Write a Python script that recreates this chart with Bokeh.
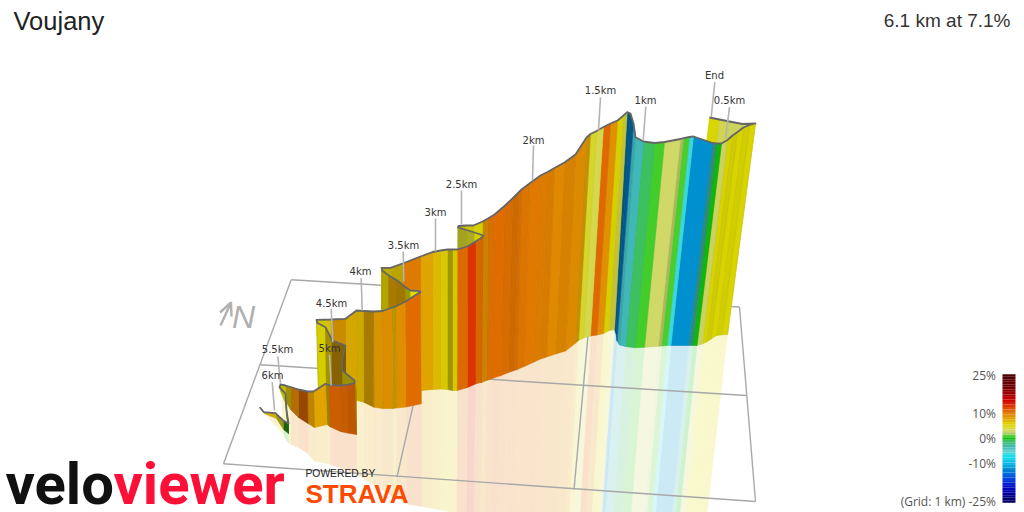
from bokeh.core.properties import value
from bokeh.embed import file_html
from bokeh.models import Range1d
from bokeh.plotting import figure
from bokeh.resources import INLINE
import numpy as np

# ---- route ribbon, from the End of the climb to its start ----
route_top_x = [
    709, 719, 729, 742,
    755, 749, 743, 737, 732, 727, 721, 716, 712, 693, 689, 683, 680, 664, 654, 643, 635, 633, 630,
    626.7, 623, 617, 610, 603, 596, 590, 586, 575, 564, 554, 547, 540, 529, 521, 518, 512, 504, 494, 487.6, 482,
    473, 465, 458, 457.5, 466, 474,
    483, 480, 475, 467, 456.7, 452, 447, 440, 432, 420,
    402, 390, 381, 381.7, 388.3, 396.7, 405, 410, 419,
    420, 405, 395, 392, 382, 373, 363, 356, 345, 330, 316,
    316.7, 325, 331.7, 345, 341.7, 341.7, 354,
    354, 347, 340, 328, 325, 313, 307, 298, 290, 285, 280,
    279, 285, 286, 288, 282.7, 275, 263.3, 259.3,
]
route_top_y = [
    117, 119, 121, 123.5,
    123, 124.5, 127, 131.5, 135, 139.5, 143, 143, 142.5, 136, 136.5, 137.7, 138.5, 141.5, 142.5, 141, 136.7, 123, 113,
    111.7, 115, 120, 123, 126.5, 130.5, 133.5, 137, 154, 162, 167.5, 171.5, 175, 183, 189, 192, 198, 205.5, 214, 218, 221,
    225, 225, 225.5, 227, 229.5, 232,
    235, 238, 241, 246, 249, 249, 249, 250, 251.5, 256,
    263, 267.3, 267.3, 270, 275, 280, 286.7, 290, 290.7,
    291.5, 301, 306, 307, 310.5, 311, 310.5, 310, 318.3, 319, 319.3,
    322.3, 326.7, 340, 345, 358.3, 370, 380,
    382.7, 384.3, 385, 384.5, 383.3, 391, 391, 389, 386.5, 385, 384,
    386.7, 393.3, 410, 423, 420, 412.7, 411.7, 406.7,
]
route_base_x = [
    687, 697, 707, 718,
    727, 721.5, 716, 710.5, 706, 702, 696.5, 692, 688, 670.5, 666.5, 661, 658, 644, 634.5, 625, 619, 616.5, 615.5,
    614, 608.5, 603, 596.5, 590, 583, 578, 574.5, 565, 555, 546, 540, 533.5, 523.5, 516.5, 513.5, 508, 500.5, 491.5, 486, 481,
    472, 464.5, 457.5, 457.5, 466, 474,
    481.7, 480, 475, 467, 456.5, 452, 447, 440, 432, 420,
    402, 390, 381, 381, 388.3, 396.7, 405, 410, 419,
    420.7, 405.5, 395.5, 392.5, 382.5, 373.3, 363.3, 356.7, 345, 331, 318,
    318.5, 326, 331.7, 345, 341.7, 341.7, 356,
    356, 347, 340, 329, 326.7, 314, 307.5, 298, 290, 285.5, 281.7,
    281, 285, 287, 288, 283, 276, 264, 259.3,
]
route_base_y = [
    300, 300, 300, 300,
    334, 334.3, 335, 338.5, 341.5, 343.3, 345, 345, 345, 345, 345, 345.5, 345.7, 346.8, 347.2, 346, 344.5, 340.5, 333,
    329, 330, 333, 334.5, 335.5, 337.5, 340, 343, 350.5, 353.5, 356.5, 358.5, 361.5, 366, 369, 370, 372, 375, 378, 380, 382,
    300, 300, 300, 300, 300, 300,
    381.7, 382, 383.5, 387, 390, 390, 389, 388.5, 389, 390,
    330, 330, 330, 330, 330, 330, 330, 330, 330,
    403.3, 406.5, 407.5, 408, 408, 406.7, 401.7, 400, 397, 392, 392,
    392, 392, 392, 392, 392, 392, 392,
    434, 432.5, 431, 426, 424, 427, 423, 417, 409, 401, 393.3,
    393, 403, 421, 433, 429, 418, 413, 407,
]
# gradient (%) of each strip between two route points
strip_grade = [
    5.5, 3.5, 3.2, 3.2,
    5.6, 5.5, 5.6, 5.4, 5.5, 3.2, 0, -3, -12, -6, 0.9, 2.6, 3, 0.8, -1, -3.5, -3.5, -13, -12,
    4, 5.5, 9, 11, 3.7, 4.5, 8, 9.2, 9.6, 9.5, 9.8, 10, 10.2, 10.3, 10.5, 10.5, 10.6, 10.8, 10.5, 9, 5.5,
    5.5, 5.5, 5.5, 4.5, 4.5, 5.5,
    10.8, 10.8, 13, 10.8, 6, 6, 6, 7, 8, 10,
    6.5, 6, 6, 6, 8, 8, 5.5, 5.5, 5.5,
    10.8, 9.2, 6.5, 9, 8.5, 8, 7, 7.5, 8.5, 6, 5.5,
    5.6, 6.5, 8, 8, 8, 6, 6.5,
    11, 11, 11, 7, 8, 8.5, 11, 9.5, 6, 6, 5.5,
    5.5, 5, 2, 0.5, 5, 7, 6,
]
# how much light each strip catches in the 3D view
strip_light = [
    0.97, 0.98, 0.98, 0.97,
    0.97, 0.93, 0.97, 0.92, 0.96, 0.97, 0.95, 0.75, 1, 1, 1, 0.88, 1, 1, 1, 1, 0.9, 0.7, 0.6,
    0.9, 0.95, 1, 1, 1, 0.98, 0.88, 0.98, 0.96, 1, 0.96, 0.98, 1, 0.98, 0.95, 0.92, 0.96, 1, 0.97, 0.9, 0.95,
    0.9, 0.85, 0.85, 0.75, 0.78, 0.95,
    0.95, 0.95, 1, 0.98, 0.97, 0.72, 0.97, 1, 1, 0.98,
    0.85, 0.85, 0.85, 0.8, 0.75, 0.72, 0.7, 1, 1,
    1, 1, 0.8, 0.98, 0.96, 0.75, 0.92, 0.96, 0.9, 0.95, 0.9,
    0.95, 0.75, 0.6, 0.55, 0.6, 0.7, 0.75,
    0.85, 0.88, 0.9, 0.7, 1, 0.85, 0.68, 0.8, 0.7, 0.9, 0.9,
    0.85, 0.7, 0.55, 0.5, 0.7, 0.95, 0.9,
]
# 1 where the strip's foot is seen and it throws a pale image on the floor
strip_floor = [
    0, 0, 0, 0,
    1, 1, 1, 1, 1, 1, 1, 1, 1, 1, 1, 1, 1, 1, 1, 1, 1, 1, 1,
    1, 1, 1, 1, 1, 1, 1, 1, 1, 1, 1, 1, 1, 1, 1, 1, 1, 1, 1, 1, 0,
    0, 0, 0, 0, 0, 0,
    1, 1, 1, 1, 1, 1, 1, 1, 1, 0,
    0, 0, 0, 0, 0, 0, 0, 0, 0,
    1, 1, 1, 1, 1, 1, 1, 1, 0, 0, 0,
    0, 0, 0, 0, 0, 0, 0,
    1, 1, 1, 1, 1, 1, 1, 1, 1, 1, 0,
    0, 0, 0, 1, 1, 1, 1,
]
floor_edge_x = [259, 267, 282, 288, 305, 316, 327, 353, 404, 433, 455, 480]
floor_edge_y = [408, 416, 433, 443, 450, 463, 463, 472, 503, 508, 512, 530]

# distance markers: label, label point, point on the ridge
marker_labels = ["End", "0.5km", "1km", "1.5km", "2km", "2.5km", "3km", "3.5km", "4km", "4.5km", "5km", "5.5km", "6km"]
marker_label_x = [714, 729, 645, 600, 533, 461, 435, 403, 360, 331, 329, 277, 272]
marker_label_y = [75, 100, 100, 90, 140, 184, 212, 245, 271, 303, 348, 349, 375]
marker_from_y = [81.7, 106.7, 106, 96.7, 145, 190, 218, 251, 277.7, 308.3, 354, 356, 381.7]
marker_from_x = [714.3, 729, 645.3, 600, 533, 461, 435, 402.7, 360.7, 330.7, 329, 277.3, 271.7]
marker_to_x = [710.7, 725, 642.7, 598, 532, 461, 435, 403.3, 361.7, 332.3, 330.7, 280, 274]
marker_to_y = [116.7, 138, 140, 130, 180, 224, 250.7, 281, 310, 341.7, 385, 383.3, 410]

# floor grid
grid_x0 = [290.7, 260, 290.7, 223, 739, 440, 591]
grid_y0 = [279.3, 364.3, 279.3, 463.3, 306.5, 283, 297]
grid_x1 = [739, 745.7, 223, 755, 755, 396.5, 573.5]
grid_y1 = [306.5, 395, 463.3, 501, 501, 476.7, 489]

legend_ticks = ["25%", "10%", "0%", "-10%", "(Grid: 1 km) -25%"]
legend_tick_values = [25, 10, 0, -10, -25]
legend_tick_y = [375, 413, 438, 463, 501]

# ---- colour scale of the gradient bar ----
scale_grade = [25, 20, 15, 12.5, 11, 9.5, 8, 6.5, 5.5, 4, 3, 2, 1, 0, -1, -3.5, -5, -7, -10, -12, -16, -20, -25]
scale_rgb = ["#4a0000", "#7a0000", "#d00000", "#e04000", "#e06800", "#e08800", "#e0a400", "#dcc000", "#e0dc00",
             "#d8d840", "#d0d868", "#a8cc60", "#50d030", "#10c010", "#3cc060", "#40b8b8", "#60d0d0", "#10e0e8",
             "#10b8e8", "#0090d0", "#0040e0", "#0000c0", "#000060"]
_rgb = np.array([[int(c[i:i + 2], 16) for i in (1, 3, 5)] for c in scale_rgb], dtype=float)


def grade_rgb(g):
    gs = np.array(scale_grade[::-1], dtype=float)
    return np.array([np.interp(g, gs, _rgb[::-1, k]) for k in range(3)])


def to_hex(rgb):
    return "#%02x%02x%02x" % tuple(int(round(min(255, max(0, v)))) for v in rgb)


n = len(route_top_x)
assert len(route_top_y) == n and len(route_base_x) == n and len(route_base_y) == n
assert len(strip_grade) == n - 1 and len(strip_light) == n - 1 and len(strip_floor) == n - 1

p = figure(width=1024, height=512, output_backend="svg", toolbar_location=None,
           x_range=Range1d(0, 1024), y_range=Range1d(512, 0), min_border=0)
p.axis.visible = False
p.grid.visible = False
p.outline_line_color = None

# floor image of the ribbon
fx, fy, fc = [], [], []
for i in range(n - 1):
    if not strip_floor[i]:
        continue
    xs, ys = [], []
    for j in (i, i + 1):
        bx, by = route_base_x[j], route_base_y[j]
        ey = float(np.interp(bx, floor_edge_x, floor_edge_y))
        ey = max(ey, by)
        k = max(0.0, (bx - 440) / 2500)
        xs.append((bx, bx - (ey - by) * k))
        ys.append((by, ey))
    fx.append([xs[0][0], xs[1][0], xs[1][1], xs[0][1]])
    fy.append([ys[0][0], ys[1][0], ys[1][1], ys[0][1]])
    fc.append(to_hex(grade_rgb(strip_grade[i]) * 0.2 + 255 * 0.8))
p.patches(fx, fy, fill_color=fc, line_color=fc, line_width=0.5)

# grid
p.segment(grid_x0, grid_y0, grid_x1, grid_y1, line_color="#a8a8a8", line_width=1.4)

# ribbon strips, far to near
sx, sy, sc, sl = [], [], [], []
for i in range(n - 1):
    rgb = grade_rgb(strip_grade[i]) * strip_light[i]
    sx.append([route_top_x[i], route_top_x[i + 1], route_base_x[i + 1], route_base_x[i]])
    sy.append([route_top_y[i], route_top_y[i + 1], route_base_y[i + 1], route_base_y[i]])
    sc.append(to_hex(rgb))
    sl.append(to_hex(rgb * 0.95))
p.patches(sx, sy, fill_color=sc, line_color=sl, line_width=0.6)
p.line(route_top_x, route_top_y, line_color="#666666", line_width=1.8, line_join="round")

# distance markers
p.segment(marker_from_x, marker_from_y, marker_to_x, marker_to_y, line_color="#b4b4b4", line_width=1.6)
p.text(marker_label_x, marker_label_y, marker_labels, text_font=value("DejaVu Sans"), text_font_size="10px",
       text_color="#333333", text_align="center", text_baseline="middle")

# north sign
p.multi_line([[220, 230.5], [219.5, 230.5, 231]], [[325, 302], [312, 302, 316]], line_color="#b0b0b0", line_width=2.4)
p.text([231.5], [316], ["N"], text_font=value("Liberation Sans"), text_font_style="italic", text_font_size="32px",
       text_color="#b0b0b0", text_align="left", text_baseline="middle")

# titles
p.text([13], [20], ["Voujany"], text_font=value("Liberation Sans"), text_font_size="25.5px", text_color="#222222",
       text_align="left", text_baseline="middle")
p.text([1010], [20], ["6.1 km at 7.1%"], text_font=value("Liberation Sans"), text_font_size="19px", text_color="#333333",
       text_align="right", text_baseline="middle")

# gradient bar
bar_grades = list(range(-25, 26))
bar_top = [438 - 2.52 * (g + 0.5) for g in bar_grades]
bar_bot = [438 - 2.52 * (g - 0.5) for g in bar_grades]
p.quad(left=1002, right=1015, top=bar_top, bottom=bar_bot,
       fill_color=[to_hex(grade_rgb(g)) for g in bar_grades], line_color=None)
p.text([995.5] * len(legend_ticks), legend_tick_y, legend_ticks, text_font=value("Open Sans"), text_font_size="12px",
       text_color="#555555", text_align="right", text_baseline="middle")

# logos
p.text([5], [483], ["velo"], text_font=value("Roboto"), text_font_style="bold", text_font_size="58px",
       text_color="#111111", text_align="left", text_baseline="middle")
p.text([113], [483], ["viewer"], text_font=value("Roboto"), text_font_style="bold", text_font_size="58px",
       text_color="#fc1038", text_align="left", text_baseline="middle")
p.text([305], [473], ["POWERED BY"], text_font=value("Liberation Sans"), text_font_size="10.3px",
       text_color="#222222", text_align="left", text_baseline="middle")
p.text([305], [493], ["STRAVA"], text_font=value("Liberation Sans"), text_font_style="bold", text_font_size="26px",
       text_color="#fc4c02", text_align="left", text_baseline="middle")

open("out.html", "w").write(file_html(p, INLINE))
